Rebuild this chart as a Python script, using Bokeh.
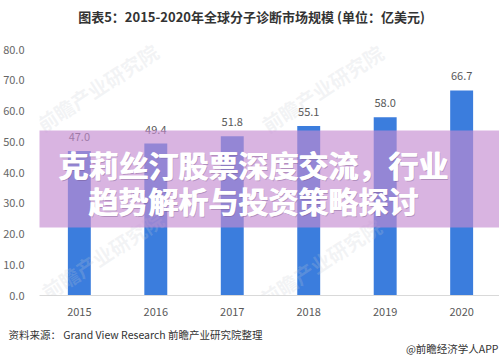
from bokeh.plotting import figure
from bokeh.models import Range1d, FixedTicker, Label, BoxAnnotation, ColumnDataSource, NumeralTickFormatter, Title
from bokeh.core.properties import value
from bokeh.embed import file_html
from bokeh.resources import INLINE

years = ["2015", "2016", "2017", "2018", "2019", "2020"]
market = [47.0, 49.4, 51.8, 55.1, 58.0, 66.7]
y_ticks = [0, 10, 20, 30, 40, 50, 60, 70, 80]
title_text = "图表5：2015-2020年全球分子诊断市场规模 (单位：亿美元)"
source_text = "资料来源： Grand View Research 前瞻产业研究院整理"
credit_text = "@前瞻经济学人APP"
banner_lines = ["克莉丝汀股票深度交流，行业", "趋势解析与投资策略探讨"]
watermark = "前瞻产业研究院"

FONT = "Noto Sans CJK SC"
W, H = 499, 358
FL, FB = 37, 295  # frame left / bottom in canvas pixels
PX_PER_UNIT = (295 - 49) / 80.0


def sx(x):
    return x - FL


def sy(y):
    return FB - y


p = figure(width=W, height=H, output_backend="svg", toolbar_location=None,
           x_range=Range1d(-0.521, 5.495), y_range=Range1d(0, FB / PX_PER_UNIT),
           min_border_left=FL, min_border_right=0, min_border_top=0, min_border_bottom=H - FB)
p.outline_line_color = None
p.grid.visible = False
p.background_fill_color = "white"
p.border_fill_color = "white"

# watermarks
for (wx, wy) in [(95, 87), (320, 88), (100, 255), (318, 262)]:
    p.add_layout(Label(x=sx(wx), y=sy(wy), x_units="screen", y_units="screen", text=watermark,
                       angle=0.58, text_align="center", text_baseline="middle",
                       text_font=FONT, text_font_size="20px", text_font_style="bold",
                       text_color="#c8ccd2", text_alpha=0.22))

xs = list(range(len(years)))
src = ColumnDataSource(dict(x=xs, top=market, label=[f"{v:.1f}" for v in market]))
p.vbar(x="x", top="top", bottom=0, width=0.3, source=src, fill_color="#3b7ddd", line_color=None)
p.text(x="x", y="top", text="label", source=src, text_align="center", text_baseline="middle",
       y_offset=-14, text_font=value(FONT), text_font_size="11px", text_color="#595959")

p.xaxis.ticker = FixedTicker(ticks=xs)
p.xaxis.major_label_overrides = {i: years[i] for i in xs}
p.xaxis.axis_line_color = "#d9d9d9"
p.xaxis.major_tick_line_color = None
p.xaxis.minor_tick_line_color = None
p.xaxis.major_label_standoff = 6
p.xaxis.major_label_text_font = FONT
p.xaxis.major_label_text_font_size = "11px"
p.xaxis.major_label_text_color = "#595959"

p.yaxis.ticker = FixedTicker(ticks=y_ticks)
p.yaxis.formatter = NumeralTickFormatter(format="0.0")
p.yaxis.axis_line_color = None
p.yaxis.major_tick_line_color = None
p.yaxis.minor_tick_line_color = None
p.yaxis.major_label_standoff = 9
p.yaxis.major_label_text_font = FONT
p.yaxis.major_label_text_font_size = "11px"
p.yaxis.major_label_text_color = "#666666"

# title (inside the frame, which reaches the top of the canvas)
p.add_layout(Label(x=sx(249), y=sy(16), x_units="screen", y_units="screen", text=title_text,
                   text_align="center", text_baseline="middle", text_font=FONT,
                   text_font_size="13px", text_font_style="bold", text_color="#333333"))

# banner overlay
p.add_layout(BoxAnnotation(left=sx(0), right=sx(W), bottom=sy(227), top=sy(130),
                           left_units="screen", right_units="screen",
                           bottom_units="screen", top_units="screen",
                           fill_color=(197, 140, 209), fill_alpha=0.65, line_color=None))
for line, cy in zip(banner_lines, [163, 199]):
    p.add_layout(Label(x=sx(251), y=sy(cy), x_units="screen", y_units="screen", text=line,
                       x_offset=1, y_offset=-1.5,
                       text_align="center", text_baseline="middle", text_font=FONT,
                       text_font_size="30px", text_font_style="bold", text_color="#6a4a7a",
                       text_alpha=0.35))
    for dx in (-0.5, 0.5):
        p.add_layout(Label(x=sx(251), y=sy(cy), x_units="screen", y_units="screen", text=line,
                           x_offset=dx,
                           text_align="center", text_baseline="middle", text_font=FONT,
                           text_font_size="30px", text_font_style="bold", text_color="white"))

# footer as titles below the x axis
p.add_layout(Title(text=source_text, align="left", offset=6 - FL, standoff=12,
                   vertical_align="bottom",
                   text_font=FONT, text_font_size="10.5px", text_font_style="normal",
                   text_color="#333333"), "below")
p.add_layout(Title(text=credit_text, align="right", offset=1, standoff=-13,
                   vertical_align="top",
                   text_font=FONT, text_font_size="10.5px", text_font_style="normal",
                   text_color="#333333"), "below")

open("out.html", "w").write(file_html(p, INLINE))
